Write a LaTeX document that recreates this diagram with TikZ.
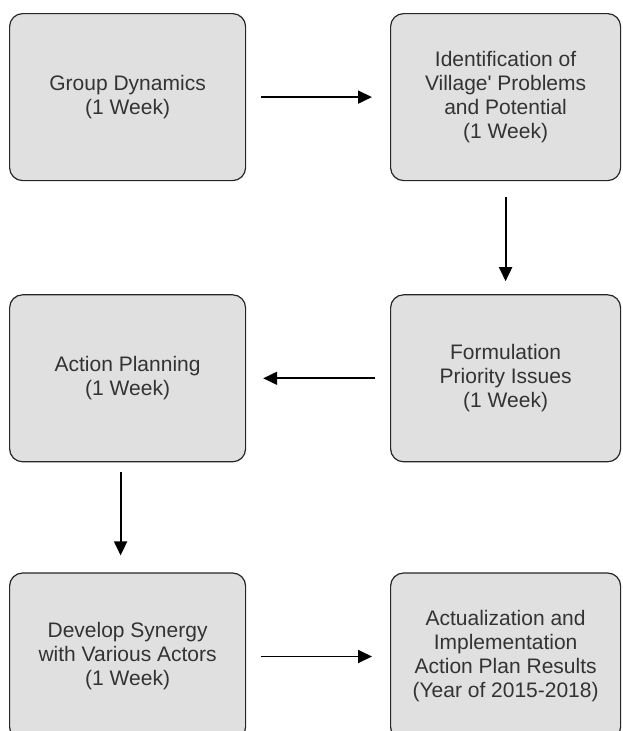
\documentclass[tikz,border=0pt]{standalone}
\usepackage{fontspec}
\setmainfont{Liberation Sans}
\usetikzlibrary{positioning, arrows.meta}

\begin{document}
\begin{tikzpicture}[
        every node/.style={font=\fontsize{21}{24}\selectfont, text=black!80},
        phase/.style={rectangle, draw=black!85, line width=1.2pt, rounded corners=13pt, fill=black!12, minimum width=#1, minimum height=167pt, align=center, inner sep=0pt},
        phase/.default=236pt,
        arrow/.style={-{Triangle[length=14pt, width=13pt]}, line width=1.8pt}
    ]
%
    \useasboundingbox (0,0) rectangle (623pt,-731pt);
    \clip (0,0) rectangle (623pt,-731pt);
%
    \node[phase, anchor=north west] (group) at (9pt,-13pt) {Group Dynamics\\(1 Week)};
    \node[phase=230pt, anchor=north west] (ident) at (390pt,-13pt) {Identification of\\Village\textquotesingle{} Problems\\and Potential\\(1 Week)};
    \node[phase=230pt, below=113pt of ident] (formul) {Formulation\\Priority Issues\\(1 Week)};
    \node[phase, below=113pt of group] (plan) {Action Planning\\(1 Week)};
    \node[phase, below=110pt of plan] (synergy) {Develop Synergy\\with Various Actors\\(1 Week)};
    \node[phase=230pt, below=110pt of formul] (actual) {Actualization and\\Implementation\\Action Plan Results\\(Year of 2015-2018)};
%
    \draw[arrow, shorten <=15pt, shorten >=18pt] (group) -- (ident);
    \draw[arrow, shorten <=16pt, shorten >=13pt] (ident) -- (formul);
    \draw[arrow, shorten <=15pt, shorten >=17pt] (formul) -- (plan);
    \draw[arrow, shorten <=10pt, shorten >=17pt] ([xshift=-7pt]plan.south) -- ([xshift=-7pt]synergy.north);
    \draw[arrow, shorten <=15pt, shorten >=18pt] (synergy) -- (actual);
%
\end{tikzpicture}
\end{document}
